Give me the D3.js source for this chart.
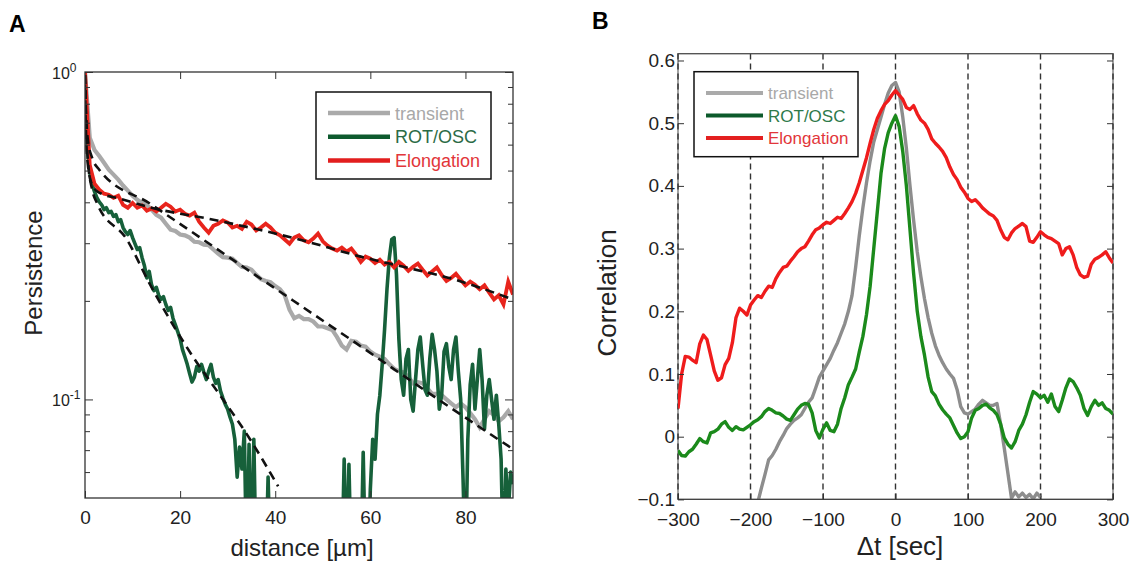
<!DOCTYPE html>
<html>
<head>
<meta charset="utf-8">
<title>Persistence and correlation</title>
<style>
  body { margin: 0; background: white; }
  svg { display: block; font-family: "Liberation Sans", Arial, sans-serif; }
  .tick text { fill: #222; }
  .tick line { stroke: #333; }
</style>
</head>
<body>
<svg id="chart" width="1130" height="565"></svg>
<script src="https://cdn.jsdelivr.net/npm/d3@7"></script>
<script>
// ---------- panel A : persistence vs distance ----------
var distA = d3.range(0, 91, 1);
var distRotA = d3.range(0, 90.25, 0.5);

var transientA = [1.0, 0.630, 0.578, 0.554, 0.528, 0.503, 0.486, 0.469, 0.450, 0.434,
  0.419, 0.407, 0.398, 0.392, 0.380, 0.366, 0.359, 0.344, 0.330, 0.327,
  0.319, 0.317, 0.312, 0.303, 0.302, 0.297, 0.296, 0.287, 0.279, 0.272,
  0.271, 0.269, 0.261, 0.254, 0.253, 0.249, 0.240, 0.233, 0.230, 0.228,
  0.222, 0.217, 0.208, 0.188, 0.177, 0.180, 0.176, 0.176, 0.173, 0.167,
  0.167, 0.165, 0.163, 0.155, 0.146, 0.142, 0.151, 0.150, 0.146, 0.145,
  0.140, 0.137, 0.135, 0.133, 0.128, 0.124, 0.122, 0.121, 0.117, 0.112,
  0.113, 0.112, 0.108, 0.104, 0.104, 0.103, 0.100, 0.0972, 0.0947, 0.0972,
  0.0947, 0.0908, 0.0870, 0.0822, 0.0870, 0.0921, 0.0895, 0.0858, 0.0882, 0.0921,
  0.0870];

var elongA = [1.0, 0.520, 0.456, 0.437, 0.425, 0.422, 0.413, 0.419, 0.393, 0.385,
  0.398, 0.385, 0.391, 0.377, 0.383, 0.375, 0.385, 0.396, 0.388, 0.375,
  0.380, 0.369, 0.364, 0.372, 0.349, 0.335, 0.323, 0.339, 0.344, 0.352,
  0.347, 0.335, 0.339, 0.332, 0.349, 0.342, 0.328, 0.335, 0.344, 0.335,
  0.323, 0.317, 0.308, 0.299, 0.312, 0.317, 0.306, 0.302, 0.310, 0.321,
  0.304, 0.295, 0.289, 0.285, 0.291, 0.283, 0.289, 0.277, 0.263, 0.273,
  0.269, 0.261, 0.267, 0.258, 0.263, 0.253, 0.263, 0.256, 0.247, 0.254,
  0.260, 0.249, 0.239, 0.246, 0.253, 0.240, 0.230, 0.235, 0.242, 0.232,
  0.223, 0.229, 0.224, 0.217, 0.223, 0.212, 0.202, 0.208, 0.195, 0.229,
  0.209];

// sampled every 0.5 um; 0.03 = below the axis
var rotA = [1.0, 0.578, 0.496, 0.453, 0.431, 0.413, 0.401, 0.393, 0.380, 0.385,
  0.372, 0.375, 0.362, 0.367, 0.349, 0.354, 0.335, 0.325, 0.319, 0.328,
  0.312, 0.299, 0.287, 0.291, 0.271, 0.256, 0.235, 0.246, 0.224, 0.215,
  0.220, 0.208, 0.202, 0.206, 0.195, 0.187, 0.191, 0.177, 0.169, 0.161,
  0.153, 0.142, 0.135, 0.128, 0.120, 0.113, 0.117, 0.126, 0.122, 0.128,
  0.121, 0.115, 0.122, 0.128, 0.117, 0.112, 0.115, 0.106, 0.101, 0.0966,
  0.0934, 0.0882, 0.0840, 0.0756, 0.0579, 0.0715, 0.0613, 0.0800, 0.03, 0.0730,
  0.03, 0.0756, 0.03, 0.03, 0.03, 0.03, 0.03, 0.0579, 0.03, 0.03,
  0.03, 0.03, 0.03, 0.03, 0.03, 0.03, 0.03, 0.03, 0.03, 0.03,
  0.03, 0.03, 0.03, 0.03, 0.03, 0.03, 0.03, 0.03, 0.03, 0.03,
  0.03, 0.03, 0.03, 0.03, 0.03, 0.03, 0.03, 0.03, 0.03, 0.0657,
  0.03, 0.0634, 0.03, 0.03, 0.03, 0.03, 0.03, 0.0690, 0.03, 0.03,
  0.0532, 0.0756, 0.0657, 0.0902, 0.103, 0.128, 0.164, 0.217, 0.271, 0.308,
  0.312, 0.240, 0.153, 0.115, 0.103, 0.133, 0.142, 0.100, 0.0921, 0.115,
  0.142, 0.155, 0.128, 0.107, 0.103, 0.133, 0.158, 0.142, 0.122, 0.0934,
  0.103, 0.140, 0.148, 0.126, 0.115, 0.142, 0.155, 0.122, 0.100, 0.0571,
  0.03, 0.0756, 0.111, 0.128, 0.0934, 0.115, 0.142, 0.115, 0.0811, 0.103,
  0.115, 0.100, 0.0870, 0.103, 0.0840, 0.0657, 0.03, 0.0613, 0.045, 0.0600,
  0.0551];

// fitted curves (dashed)
var fitTransD = [0, 0.2, 0.6, 1.5, 3, 13.7, 34.7, 55.7, 76.7, 90];
var fitTransP = [0.979, 0.766, 0.621, 0.547, 0.503, 0.396, 0.246, 0.153, 0.0947, 0.0705];
var fitRotD = [0, 0.2, 0.6, 1.5, 2.5, 8.8, 13.7, 18.5, 22.7, 28.4, 34.7, 40.6];
var fitRotP = [0.979, 0.714, 0.539, 0.437, 0.398, 0.308, 0.224, 0.169, 0.135, 0.103, 0.0756, 0.0543];
var fitElongD = [0, 0.2, 0.6, 1.5, 3, 7.5, 14, 27, 45, 58, 66, 77, 90];
var fitElongP = [0.913, 0.666, 0.521, 0.452, 0.428, 0.410, 0.385, 0.354, 0.308, 0.273, 0.256, 0.234, 0.202];

var xTicksA = [0, 20, 40, 60, 80];
var yMajorA = [1, 0.1];
var yMinorA = [0.06, 0.07, 0.08, 0.09, 0.2, 0.3, 0.4, 0.5, 0.6, 0.7, 0.8, 0.9];

// ---------- panel B : correlation vs time lag ----------
var timeB = d3.range(-300, 301, 5);

var transientB = [null, null, null, null, null, null, null, null, null, null,
  null, null, null, null, null, null, null, null, null, null, null,
  -0.135, -0.105, -0.082, -0.060, -0.037, -0.030, -0.020, -0.008, 0.002, 0.013,
  0.020, 0.026, 0.030, 0.035, 0.045, 0.055, 0.062, 0.078, 0.095, 0.105,
  0.115, 0.125, 0.138, 0.150, 0.165, 0.180, 0.200, 0.225, 0.270, 0.320,
  0.365, 0.405, 0.440, 0.470, 0.490, 0.510, 0.530, 0.548, 0.560, 0.565,
  0.550, 0.510, 0.460, 0.400, 0.345, 0.295, 0.255, 0.220, 0.190, 0.165,
  0.145, 0.130, 0.118, 0.108, 0.100, 0.093, 0.075, 0.048, 0.038, 0.036,
  0.040, 0.044, 0.052, 0.058, 0.054, 0.050, 0.050, 0.053, 0.020, -0.018,
  -0.058, -0.098, -0.088, -0.096, -0.090, -0.097, -0.092, -0.099, -0.090, -0.097,
  null, null, null, null, null, null, null, null, null, null,
  null, null, null, null, null, null, null, null, null, null];

var rotB = [-0.022, -0.030, -0.031, -0.024, -0.020, -0.012, -0.003, -0.008, -0.010, 0.006,
  0.008, 0.012, 0.020, 0.024, 0.015, 0.010, 0.016, 0.012, 0.011, 0.015,
  0.019, 0.024, 0.027, 0.032, 0.040, 0.045, 0.042, 0.038, 0.037, 0.033,
  0.028, 0.026, 0.035, 0.044, 0.050, 0.053, 0.052, 0.038, 0.010, -0.002, 0.012,
  0.022, 0.010, 0.008, 0.020, 0.045, 0.062, 0.083, 0.095, 0.108, 0.135,
  0.160, 0.195, 0.240, 0.300, 0.360, 0.420, 0.460, 0.485, 0.500, 0.512,
  0.495, 0.455, 0.400, 0.330, 0.260, 0.200, 0.160, 0.130, 0.095, 0.072,
  0.065, 0.052, 0.043, 0.036, 0.030, 0.018, 0.006, -0.003, 0.000, 0.008,
  0.030, 0.042, 0.045, 0.050, 0.052, 0.046, 0.042, 0.035, 0.020, -0.002,
  -0.012, -0.018, -0.008, 0.010, 0.020, 0.035, 0.055, 0.072, 0.068, 0.062,
  0.066, 0.055, 0.068, 0.048, 0.040, 0.058, 0.078, 0.092, 0.088, 0.078,
  0.066, 0.045, 0.034, 0.048, 0.058, 0.050, 0.054, 0.045, 0.042, 0.036];

var elongB = [0.045, 0.100, 0.128, 0.127, 0.122, 0.118, 0.148, 0.162, 0.155, 0.130,
  0.105, 0.090, 0.094, 0.115, 0.125, 0.150, 0.190, 0.205, 0.200, 0.194,
  0.210, 0.218, 0.225, 0.222, 0.232, 0.240, 0.238, 0.252, 0.262, 0.270,
  0.272, 0.280, 0.287, 0.295, 0.300, 0.303, 0.312, 0.322, 0.330, 0.333, 0.338,
  0.342, 0.340, 0.345, 0.350, 0.348, 0.356, 0.365, 0.375, 0.388, 0.405,
  0.425, 0.445, 0.468, 0.490, 0.508, 0.520, 0.530, 0.536, 0.545, 0.552,
  0.545, 0.538, 0.525, 0.522, 0.528, 0.515, 0.505, 0.500, 0.490, 0.475,
  0.468, 0.462, 0.455, 0.445, 0.430, 0.418, 0.410, 0.398, 0.390, 0.380,
  0.375, 0.378, 0.372, 0.365, 0.360, 0.355, 0.352, 0.345, 0.330, 0.318,
  0.314, 0.325, 0.332, 0.336, 0.340, 0.335, 0.312, 0.310, 0.318, 0.327,
  0.322, 0.318, 0.316, 0.312, 0.308, 0.290, 0.300, 0.303, 0.290, 0.270,
  0.258, 0.254, 0.256, 0.275, 0.283, 0.286, 0.290, 0.295, 0.285, 0.277];

var xTicksB = [-300, -200, -100, 0, 100, 200, 300];
var yTicksB = [-0.1, 0, 0.1, 0.2, 0.3, 0.4, 0.5, 0.6];

var legendNames = ["transient", "ROT/OSC", "Elongation"];

var svg = d3.select("#chart");

// ================= panel A =================
var xA = d3.scaleLinear().domain([0, 90]).range([85, 513]);
var yA = d3.scaleLog().domain([0.05, 1]).range([498, 72]);

svg.append("text").attr("x", 9).attr("y", 32)
  .style("font-size", "23px").style("font-weight", "bold").text("A");

svg.append("clipPath").attr("id", "clipA").append("rect")
  .attr("x", 85).attr("y", 72).attr("width", 428).attr("height", 426);

var lineA = d3.line().x(function(d) { return xA(d[0]); }).y(function(d) { return yA(d[1]); });
var fitLine = d3.line().curve(d3.curveMonotoneX)
  .x(function(d) { return xA(d[0]); }).y(function(d) { return yA(d[1]); });

var gA = svg.append("g").attr("clip-path", "url(#clipA)");
gA.append("path").datum(d3.zip(distA, transientA))
  .attr("d", lineA).attr("fill", "none").attr("stroke", "#a9a9a9").attr("stroke-width", 4.2);
gA.append("path").datum(d3.zip(distRotA, rotA))
  .attr("d", lineA).attr("fill", "none").attr("stroke", "#16603a").attr("stroke-width", 3.6)
  .attr("stroke-linejoin", "round");
gA.append("path").datum(d3.zip(distA, elongA))
  .attr("d", lineA).attr("fill", "none").attr("stroke", "#e8241c").attr("stroke-width", 3.8);

[[fitTransD, fitTransP], [fitRotD, fitRotP], [fitElongD, fitElongP]].forEach(function(f) {
  gA.append("path").datum(d3.zip(f[0], f[1]))
    .attr("d", fitLine).attr("fill", "none").attr("stroke", "#111")
    .attr("stroke-width", 2.6).attr("stroke-dasharray", "9,6");
});

// axes A (ticks pointing inward)
svg.append("g").attr("transform", "translate(0,498)")
  .call(d3.axisBottom(xA).tickValues(xTicksA).tickSizeInner(-7).tickSizeOuter(0).tickPadding(13))
  .call(function(g) { g.select(".domain").remove(); })
  .selectAll("text").style("font-size", "19px");
svg.append("g").attr("transform", "translate(0,72)")
  .call(d3.axisTop(xA).tickValues(xTicksA.slice(1)).tickSizeInner(-7).tickSizeOuter(0).tickFormat(""))
  .call(function(g) { g.select(".domain").remove(); });

[[yMinorA, 5], [yMajorA, 8]].forEach(function(t) {
  svg.append("g").attr("transform", "translate(85,0)")
    .call(d3.axisLeft(yA).tickValues(t[0]).tickSizeInner(-t[1]).tickSizeOuter(0).tickFormat(""))
    .call(function(g) { g.select(".domain").remove(); });
  svg.append("g").attr("transform", "translate(513,0)")
    .call(d3.axisRight(yA).tickValues(t[0]).tickSizeInner(-t[1]).tickSizeOuter(0).tickFormat(""))
    .call(function(g) { g.select(".domain").remove(); });
});

var yLabA = svg.selectAll(".ylabA").data(yMajorA).enter().append("text")
  .attr("class", "ylabA")
  .attr("x", 52).attr("y", function(d) { return yA(d) + 7; })
  .style("font-size", "16px").attr("fill", "#222");
yLabA.append("tspan").text("10");
yLabA.append("tspan").attr("dy", -7).attr("dx", 0)
  .style("font-size", "12px").text(function(d) { return d === 1 ? "0" : "-1"; });

svg.append("rect").attr("x", 85).attr("y", 72).attr("width", 428).attr("height", 426)
  .attr("fill", "none").attr("stroke", "#333").attr("stroke-width", 1.3);

svg.append("text").attr("x", 302).attr("y", 556).attr("text-anchor", "middle")
  .style("font-size", "24px").attr("fill", "#222").text("distance [µm]");
svg.append("text").attr("transform", "translate(42,273) rotate(-90)")
  .attr("text-anchor", "middle").style("font-size", "24px").attr("fill", "#222").text("Persistence");

// legend A
var legA = svg.append("g");
legA.append("rect").attr("x", 316).attr("y", 92).attr("width", 175).attr("height", 87)
  .attr("fill", "white").attr("stroke", "#111").attr("stroke-width", 1.5);
var legColorsA = ["#aaaaaa", "#0e5a2e", "#e21e1e"];
var legTextA = ["#a8a8a8", "#2b6b46", "#e2363a"];
legendNames.forEach(function(name, i) {
  var cy = 113 + i * 23.7;
  legA.append("line").attr("x1", 328).attr("x2", 390).attr("y1", cy).attr("y2", cy)
    .attr("stroke", legColorsA[i]).attr("stroke-width", 4.5);
  legA.append("text").attr("x", 395).attr("y", cy + 6.5)
    .style("font-size", "18px").attr("fill", legTextA[i]).text(name);
});

// ================= panel B =================
var xB = d3.scaleLinear().domain([-300, 300]).range([678, 1113]);
var yB = d3.scaleLinear().domain([-0.1, 0.611]).range([499.4, 53.6]);

svg.append("text").attr("x", 592).attr("y", 29)
  .style("font-size", "23px").style("font-weight", "bold").text("B");

svg.append("rect").attr("x", 678).attr("y", 53.6).attr("width", 435).attr("height", 445.8)
  .attr("fill", "none").attr("stroke", "#666").attr("stroke-width", 1.2);

// dashed vertical grid
svg.append("g").selectAll("line").data(xTicksB).enter().append("line")
  .attr("x1", function(d) { return xB(d); }).attr("x2", function(d) { return xB(d); })
  .attr("y1", 53.6).attr("y2", 499.4)
  .attr("stroke", "#333").attr("stroke-width", 1.4).attr("stroke-dasharray", "6,4");

svg.append("clipPath").attr("id", "clipB").append("rect")
  .attr("x", 678).attr("y", 53.6).attr("width", 435).attr("height", 445.8);

var lineB = d3.line()
  .defined(function(d) { return d[1] !== null; })
  .x(function(d) { return xB(d[0]); }).y(function(d) { return yB(d[1]); });

var gB = svg.append("g").attr("clip-path", "url(#clipB)");
gB.append("path").datum(d3.zip(timeB, transientB))
  .attr("d", lineB).attr("fill", "none").attr("stroke", "#8d8d8d").attr("stroke-width", 3.4)
  .attr("stroke-linejoin", "round");
gB.append("path").datum(d3.zip(timeB, rotB))
  .attr("d", lineB).attr("fill", "none").attr("stroke", "#1b8a1b").attr("stroke-width", 3.4)
  .attr("stroke-linejoin", "round");
gB.append("path").datum(d3.zip(timeB, elongB))
  .attr("d", lineB).attr("fill", "none").attr("stroke", "#ef1c1c").attr("stroke-width", 3.4)
  .attr("stroke-linejoin", "round");

svg.append("line").attr("x1", 678).attr("x2", 1113).attr("y1", 53.6).attr("y2", 53.6)
  .attr("stroke", "#555").attr("stroke-width", 1.3);
svg.append("line").attr("x1", 678).attr("x2", 1113).attr("y1", 499.4).attr("y2", 499.4)
  .attr("stroke", "#444").attr("stroke-width", 1.4);

// axes B
svg.append("g").attr("transform", "translate(0,499.4)")
  .call(d3.axisBottom(xB).tickValues(xTicksB).tickSizeInner(-6).tickSizeOuter(0).tickPadding(13))
  .call(function(g) { g.select(".domain").remove(); })
  .selectAll("text").style("font-size", "19px");
svg.append("g").attr("transform", "translate(678,0)")
  .call(d3.axisLeft(yB).tickValues(yTicksB).tickSizeInner(-6).tickSizeOuter(0).tickPadding(3)
    .tickFormat(function(d) { return d === 0 ? "0" : d3.format(".1f")(d); }))
  .call(function(g) { g.select(".domain").remove(); })
  .selectAll("text").style("font-size", "19px");
svg.append("g").attr("transform", "translate(1113,0)")
  .call(d3.axisRight(yB).tickValues(yTicksB).tickSizeInner(-6).tickSizeOuter(0).tickFormat(""))
  .call(function(g) { g.select(".domain").remove(); });

svg.append("text").attr("x", 900).attr("y", 555).attr("text-anchor", "middle")
  .style("font-size", "26px").attr("fill", "#222").text("Δt [sec]");
svg.append("text").attr("transform", "translate(616,293) rotate(-90)")
  .attr("text-anchor", "middle").style("font-size", "26px").attr("fill", "#222").text("Correlation");

// legend B
var legB = svg.append("g");
legB.append("rect").attr("x", 694).attr("y", 71.7).attr("width", 164).attr("height", 85)
  .attr("fill", "white").attr("stroke", "#111").attr("stroke-width", 1.5);
var legColorsB = ["#aaaaaa", "#0c5a2b", "#e32020"];
var legTextB = ["#a8a8a8", "#2e7a4a", "#e2363a"];
legendNames.forEach(function(name, i) {
  var cy = 93 + i * 22.5;
  legB.append("line").attr("x1", 706).attr("x2", 763).attr("y1", cy).attr("y2", cy)
    .attr("stroke", legColorsB[i]).attr("stroke-width", 4.2);
  legB.append("text").attr("x", 768).attr("y", cy + 6)
    .style("font-size", "17px").attr("fill", legTextB[i]).text(name);
});
</script>
</body>
</html>
